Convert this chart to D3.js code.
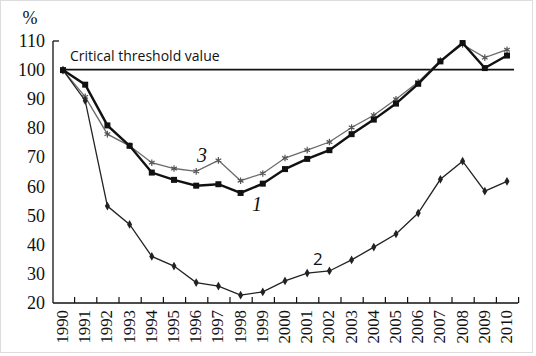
<!DOCTYPE html>
<html lang="en">
<head>
<meta charset="UTF-8">
<title>Critical threshold chart</title>
<script src="https://d3js.org/d3.v7.min.js"></script>
<style>
html,body{margin:0;padding:0;background:#fff}
svg{display:block}
</style>
</head>
<body>
<div id="chart"></div>
<script>
var years = d3.range(1990, 2011);
var yTicks = [20, 30, 40, 50, 60, 70, 80, 90, 100, 110];
var threshold = 100;

// 1 — thick black, squares
var series1 = [100, 95, 81, 74, 64.8, 62.3, 60.3, 60.8, 57.8, 61, 66, 69.5, 72.5, 78, 83, 88.5, 95.3, 103, 109.3, 100.7, 105];
// 2 — thin black, diamonds
var series2 = [100, 89.5, 53.3, 47, 36, 32.7, 27, 25.8, 22.7, 23.8, 27.6, 30.3, 31, 34.8, 39.2, 43.7, 50.9, 62.5, 68.7, 58.4, 61.8];
// 3 — gray, stars
var series3 = [100, 90.8, 78, 74, 68.2, 66.2, 65.2, 69, 62, 64.5, 69.8, 72.5, 75.3, 80.3, 84.5, 90, 95.9, 103.3, 108.8, 104.3, 107];

var SERIF = "'Liberation Serif', 'Times New Roman', 'DejaVu Serif', serif";
var SANS = "'Open Sans', 'DejaVu Sans', sans-serif";

var W = 536, H = 356;
var svg = d3.select('#chart').append('svg').attr('width', W).attr('height', H);

svg.append('rect').attr('x', 0.5).attr('y', 0.5).attr('width', W - 4).attr('height', H - 4)
  .attr('fill', '#fff').attr('stroke', '#ddd');

var x = d3.scaleLinear().domain([1990, 2010]).range([63, 507]);
var y = d3.scaleLinear().domain([20, 110]).range([303, 41]);
var axisX0 = 53;

// y axis
svg.append('line').attr('x1', axisX0).attr('x2', axisX0).attr('y1', y(110)).attr('y2', y(20))
  .attr('stroke', '#111').attr('stroke-width', 1.3);
svg.append('line').attr('x1', axisX0).attr('x2', axisX0 + 6).attr('y1', y(110)).attr('y2', y(110))
  .attr('stroke', '#111').attr('stroke-width', 1.3);
svg.selectAll('text.ylab').data(yTicks).join('text')
  .attr('class', 'ylab').attr('x', 45).attr('y', function(d) { return y(d) + 6; })
  .attr('font-family', SERIF).attr('font-size', 18).attr('fill', '#111')
  .attr('text-anchor', 'end').text(function(d) { return d; });
svg.append('text').attr('x', 30).attr('y', 24).attr('text-anchor', 'middle')
  .attr('font-family', SERIF).attr('font-size', 18).attr('fill', '#111').text('%');

// x axis with ticks between years
var xAxis = d3.axisTop(x)
  .tickValues(years.map(function(d) { return d + 0.5; }))
  .tickSize(6).tickSizeOuter(0).tickFormat('');
var gx = svg.append('g').attr('transform', 'translate(0,' + y(20) + ')').call(xAxis);
gx.select('.domain').attr('d', 'M' + axisX0 + ',0H' + x(2010.5))
  .attr('stroke', '#111').attr('stroke-width', 1.3);
gx.selectAll('.tick line').attr('stroke', '#111').attr('stroke-width', 1.2);

svg.selectAll('text.xlab').data(years).join('text')
  .attr('class', 'xlab')
  .attr('transform', function(d) { return 'translate(' + (x(d) + 5) + ',' + (y(20) + 7) + ') rotate(-90) scale(1.05,1)'; })
  .attr('font-family', SERIF).attr('font-size', 16).attr('fill', '#111')
  .attr('text-anchor', 'end').text(function(d) { return d; });

// threshold
svg.append('line').attr('x1', x(1990)).attr('x2', x(2010) + 7)
  .attr('y1', y(threshold) - 0.5).attr('y2', y(threshold) - 0.5)
  .attr('stroke', '#111').attr('stroke-width', 1.8);
svg.append('text').attr('x', 70).attr('y', 61)
  .attr('font-family', SANS).attr('font-size', 14).attr('fill', '#111').text('Critical threshold value');

var line = d3.line().x(function(d, i) { return x(years[i]); }).y(function(d) { return y(d); });

// series 3
svg.append('path').datum(series3).attr('d', line).attr('fill', 'none')
  .attr('stroke', '#6a6a6a').attr('stroke-width', 1.3);
svg.selectAll('path.m3').data(series3).join('path').attr('class', 'm3')
  .attr('transform', function(d, i) { return 'translate(' + x(years[i]) + ',' + y(d) + ')'; })
  .attr('d', d3.symbol(d3.symbolAsterisk || d3.symbolCross, 30))
  .attr('fill', 'none').attr('stroke', '#555').attr('stroke-width', 1.2);

// series 2
svg.append('path').datum(series2).attr('d', line).attr('fill', 'none')
  .attr('stroke', '#222').attr('stroke-width', 1.3);
svg.selectAll('path.m2').data(series2).join('path').attr('class', 'm2')
  .attr('transform', function(d, i) { return 'translate(' + x(years[i]) + ',' + y(d) + ')'; })
  .attr('d', d3.symbol(d3.symbolDiamond, 22)).attr('fill', '#222');

// series 1
svg.append('path').datum(series1).attr('d', line).attr('fill', 'none')
  .attr('stroke', '#111').attr('stroke-width', 2.4);
svg.selectAll('path.m1').data(series1).join('path').attr('class', 'm1')
  .attr('transform', function(d, i) { return 'translate(' + x(years[i]) + ',' + y(d) + ')'; })
  .attr('d', d3.symbol(d3.symbolSquare, 36)).attr('fill', '#111');

// series labels
function seriesLabel(txt, lx, ly, italic, family, size) {
  svg.append('text').attr('x', lx).attr('y', ly)
    .attr('font-family', family).attr('font-size', size)
    .attr('font-style', italic ? 'italic' : 'normal').attr('fill', '#111').text(txt);
}
seriesLabel('3', 197, 162, true, SERIF, 20);
seriesLabel('1', 252, 211, true, SERIF, 20);
seriesLabel('2', 313, 265, false, SANS, 17);
</script>
</body>
</html>
